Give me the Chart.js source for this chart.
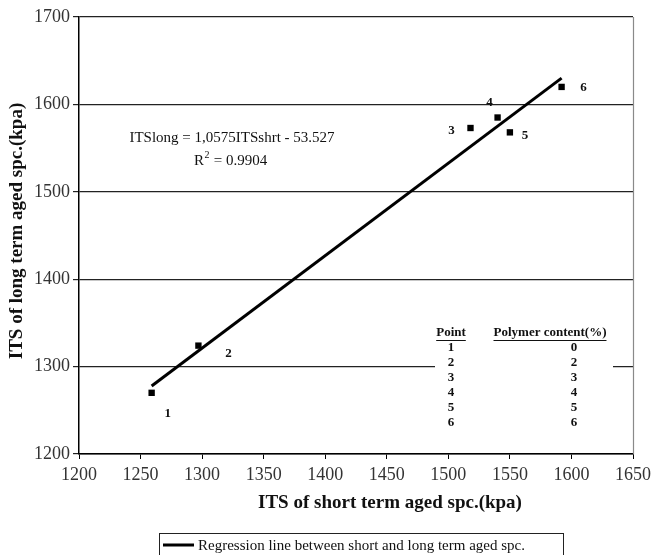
<!DOCTYPE html>
<html>
<head>
<meta charset="utf-8">
<script src="https://cdn.jsdelivr.net/npm/chart.js@4.4.1/dist/chart.umd.min.js"></script>
<style>
  html, body { margin: 0; padding: 0; background: #fff; }
  #wrap { width: 656px; height: 555px; position: relative; }
</style>
</head>
<body>
<div id="wrap"><canvas id="c" width="656" height="555"></canvas></div>
<script>
// ---- data ----
const pointIds = ["1", "2", "3", "4", "5", "6"];
const polymerContent = ["0", "2", "3", "4", "5", "6"];
const itsShort = [1259, 1297, 1518, 1540, 1550, 1592];
const itsLong = [1270, 1324, 1573, 1585, 1568, 1620];
const regSlope = 1.0575;
const regIntercept = -53.527;
const regX = [1259, 1592];
const xTicks = [1200, 1250, 1300, 1350, 1400, 1450, 1500, 1550, 1600, 1650];
const yTicks = [1200, 1300, 1400, 1500, 1600, 1700];
// label offsets (pixels) for point numbers
const labelDx = [16, 30, -19, -8, 15, 22];
const labelDy = [21, 8, 3, -15, 3, 1];

const SERIF = '"Liberation Serif", "DejaVu Serif", serif';

const scatterData = itsShort.map((x, i) => ({ x: x, y: itsLong[i] }));
const regData = regX.map(x => ({ x: x, y: regSlope * x + regIntercept }));

const overlay = {
  id: 'overlay',
  afterDraw(chart) {
    const ctx = chart.ctx;
    const xs = chart.scales.x, ys = chart.scales.y;
    const ca = chart.chartArea;
    ctx.save();
    // right border
    ctx.strokeStyle = '#8a8a8a';
    ctx.lineWidth = 1.2;
    ctx.beginPath();
    ctx.moveTo(ca.right + 0.5, ca.top);
    ctx.lineTo(ca.right + 0.5, ca.bottom);
    ctx.stroke();

    // table background (breaks gridline)
    ctx.fillStyle = '#fff';
    ctx.fillRect(435, 322, 178, 108);

    // table
    ctx.fillStyle = '#111';
    ctx.font = 'bold 13px ' + SERIF;
    ctx.textAlign = 'center';
    ctx.textBaseline = 'middle';
    const colP = 451, colH = 550, colV = 574;
    const y0 = 333;
    ctx.fillText('Point', colP, y0);
    ctx.fillText('Polymer content(%)', colH, y0);
    ctx.lineWidth = 1;
    ctx.strokeStyle = '#111';
    let w1 = ctx.measureText('Point').width;
    let w2 = ctx.measureText('Polymer content(%)').width;
    ctx.beginPath();
    ctx.moveTo(colP - w1 / 2, y0 + 7.5); ctx.lineTo(colP + w1 / 2, y0 + 7.5);
    ctx.moveTo(colH - w2 / 2, y0 + 7.5); ctx.lineTo(colH + w2 / 2, y0 + 7.5);
    ctx.stroke();
    for (let i = 0; i < pointIds.length; i++) {
      const yy = 347.5 + i * 15;
      ctx.fillText(pointIds[i], colP, yy);
      ctx.fillText(polymerContent[i], colV, yy);
    }

    // point labels
    ctx.font = 'bold 13px ' + SERIF;
    for (let i = 0; i < pointIds.length; i++) {
      const px = xs.getPixelForValue(itsShort[i]);
      const py = ys.getPixelForValue(itsLong[i]);
      ctx.fillText(pointIds[i], px + labelDx[i], py + labelDy[i]);
    }

    // equation
    ctx.font = '15px ' + SERIF;
    ctx.fillStyle = '#111';
    ctx.fillText('ITSlong = 1,0575ITSshrt - 53.527', 232, 138);
    ctx.textAlign = 'left';
    const rx = 194;
    ctx.fillText('R', rx, 161);
    const rw = ctx.measureText('R').width;
    ctx.font = '10px ' + SERIF;
    ctx.fillText('2', rx + rw + 0.5, 155);
    ctx.font = '15px ' + SERIF;
    ctx.fillText(' = 0.9904', rx + rw + 6, 161);

    // axis titles
    ctx.font = 'bold 19px ' + SERIF;
    ctx.textAlign = 'center';
    ctx.fillText('ITS of short term aged spc.(kpa)', 390, 503);
    ctx.save();
    ctx.translate(17, 231);
    ctx.rotate(-Math.PI / 2);
    ctx.fillText('ITS of long term aged spc.(kpa)', 0, 0);
    ctx.restore();

    // legend
    ctx.strokeStyle = '#222';
    ctx.lineWidth = 1;
    ctx.strokeRect(159.5, 533.5, 404, 30);
    ctx.lineWidth = 3;
    ctx.strokeStyle = '#000';
    ctx.beginPath();
    ctx.moveTo(163, 545); ctx.lineTo(194, 545);
    ctx.stroke();
    ctx.font = '15px ' + SERIF;
    ctx.textAlign = 'left';
    ctx.fillStyle = '#111';
    ctx.fillText('Regression line between short and long term aged spc.', 198, 546);
    ctx.restore();
  }
};

new Chart(document.getElementById('c'), {
  type: 'scatter',
  data: {
    datasets: [
      {
        label: 'Regression line between short and long term aged spc.',
        type: 'line',
        data: regData,
        borderColor: '#000',
        borderWidth: 3,
        pointRadius: 0,
        fill: false,
        tension: 0,
        order: 1
      },
      {
        label: 'ITS',
        data: scatterData,
        pointStyle: 'rect',
        pointRadius: 4.5,
        backgroundColor: '#000',
        borderColor: '#000',
        borderWidth: 0,
        order: 0
      }
    ]
  },
  options: {
    responsive: false,
    animation: false,
    devicePixelRatio: 1,
    layout: { padding: { top: 17, right: 23, left: 0, bottom: 0 } },
    plugins: {
      legend: { display: false },
      tooltip: { enabled: false }
    },
    scales: {
      x: {
        type: 'linear',
        min: 1200, max: 1650,
        afterBuildTicks: s => { s.ticks = xTicks.map(v => ({ value: v })); },
        afterFit: s => { s.height = 101; },
        grid: { drawOnChartArea: false, drawTicks: true, tickLength: 5, color: '#000', lineWidth: 1 },
        border: { color: '#000', width: 1.5 },
        ticks: { color: '#333', font: { family: SERIF, size: 18 }, padding: 5, maxRotation: 0,
                 callback: v => String(v) }
      },
      y: {
        type: 'linear',
        min: 1200, max: 1700,
        afterBuildTicks: s => { s.ticks = yTicks.map(v => ({ value: v })); },
        afterFit: s => { s.width = 79; },
        grid: { drawOnChartArea: true, drawTicks: true, tickLength: 6, color: '#222', lineWidth: 1.2 },
        border: { color: '#000', width: 1.5 },
        ticks: { color: '#333', font: { family: SERIF, size: 18 }, padding: 3,
                 callback: v => String(v) }
      }
    }
  },
  plugins: [overlay]
});
</script>
</body>
</html>
